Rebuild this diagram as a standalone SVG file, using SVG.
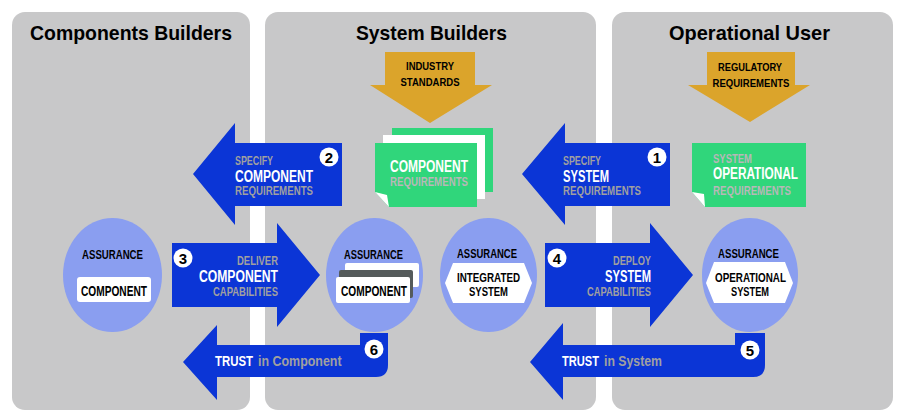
<svg xmlns="http://www.w3.org/2000/svg" width="901" height="418" viewBox="0 0 901 418">
<defs>
<style>
.panel{fill:#c8c8c9}
.hdr{font-family:"Liberation Sans",Arial,sans-serif;font-weight:bold;font-size:21px;fill:#000}
.t{font-family:"Liberation Sans Narrow","Liberation Sans",Arial,sans-serif;font-weight:bold}
.blue{fill:#0b35d6}
.orange{fill:#dba42b}
.green{fill:#30d67b}
.ell{fill:#8a9ef0}
.wt{fill:#fff}
.gt{fill:#a0a0a0}
.lg{fill:#b8b8b8}
.bk{fill:#000}
.num{fill:#fff}
</style>
</defs>
<rect width="901" height="418" fill="#fff"/>
<g id="panels">
<rect class="panel" x="12" y="12" width="238" height="398" rx="13"/>
<rect class="panel" x="265" y="12" width="331" height="398" rx="13"/>
<rect class="panel" x="612" y="12" width="281" height="398" rx="13"/>
<text class="hdr" x="30" y="40" textLength="202" lengthAdjust="spacingAndGlyphs">Components Builders</text>
<text class="hdr" x="356" y="40" textLength="151" lengthAdjust="spacingAndGlyphs">System Builders</text>
<text class="hdr" x="669" y="40" textLength="161" lengthAdjust="spacingAndGlyphs">Operational User</text>
</g>
<g id="industry-standards">
<path class="orange" d="M385,52 L475,52 L475,85 L492,85 L430,123 L370,85 L385,85 Z"/>
<text class="t bk" x="430" y="70" font-size="11.5" text-anchor="middle" textLength="48" lengthAdjust="spacingAndGlyphs">INDUSTRY</text>
<text class="t bk" x="430" y="86" font-size="11.5" text-anchor="middle" textLength="59" lengthAdjust="spacingAndGlyphs">STANDARDS</text>
</g>
<g id="regulatory-requirements">
<path class="orange" d="M707,52 L795,52 L795,85 L810,85 L750,122 L688,85 L707,85 Z"/>
<text class="t bk" x="750" y="71" font-size="11.5" text-anchor="middle" textLength="64" lengthAdjust="spacingAndGlyphs">REGULATORY</text>
<text class="t bk" x="751" y="87" font-size="11.5" text-anchor="middle" textLength="77" lengthAdjust="spacingAndGlyphs">REQUIREMENTS</text>
</g>
<g id="component-requirements">
<rect class="green" x="392" y="128" width="101" height="64"/>
<rect class="wt" x="383" y="135" width="102" height="64"/>
<path class="green" d="M375,143 L477,143 L477,207 L389,207 L375,192 Z"/>
<path class="wt" d="M375,192 L387,195 L389,207 Z"/>
<text class="t wt" x="390" y="172" font-size="16" textLength="78" lengthAdjust="spacingAndGlyphs">COMPONENT</text>
<text class="t lg" x="390" y="186" font-size="12.5" textLength="78" lengthAdjust="spacingAndGlyphs">REQUIREMENTS</text>
</g>
<g id="system-operational-requirements">
<path class="green" d="M692,143 L806,143 L806,207 L705,207 L692,192 Z"/>
<path class="wt" d="M692,192 L704,194 L705,207 Z"/>
<text class="t lg" x="713" y="163" font-size="12.5" textLength="39" lengthAdjust="spacingAndGlyphs">SYSTEM</text>
<text class="t wt" x="713" y="179" font-size="16" textLength="85" lengthAdjust="spacingAndGlyphs">OPERATIONAL</text>
<text class="t lg" x="713" y="195" font-size="12.5" textLength="78" lengthAdjust="spacingAndGlyphs">REQUIREMENTS</text>
</g>
<g id="assurance-component-1">
<ellipse class="ell" cx="112.5" cy="275" rx="49.5" ry="57"/>
<text class="t bk" x="112.5" y="259" font-size="13" text-anchor="middle" textLength="61" lengthAdjust="spacingAndGlyphs">ASSURANCE</text>
<rect class="wt" x="77" y="277" width="74" height="25" rx="3"/>
<text class="t bk" x="114" y="296" font-size="14.5" text-anchor="middle" textLength="66" lengthAdjust="spacingAndGlyphs">COMPONENT</text>
</g>
<g id="assurance-component-2">
<ellipse class="ell" cx="374.5" cy="275" rx="48.5" ry="57"/>
<text class="t bk" x="373.5" y="259" font-size="13" text-anchor="middle" textLength="59" lengthAdjust="spacingAndGlyphs">ASSURANCE</text>
<rect class="wt" x="345" y="263" width="74" height="24" rx="2"/>
<rect fill="#555b5b" x="339" y="270" width="74" height="28" rx="2"/>
<rect class="wt" x="336" y="277" width="74" height="26" rx="2"/>
<text class="t bk" x="374" y="296" font-size="14.5" text-anchor="middle" textLength="66" lengthAdjust="spacingAndGlyphs">COMPONENT</text>
</g>
<g id="assurance-integrated-system">
<ellipse class="ell" cx="488.5" cy="275" rx="48.5" ry="57"/>
<text class="t bk" x="487" y="258" font-size="13" text-anchor="middle" textLength="60" lengthAdjust="spacingAndGlyphs">ASSURANCE</text>
<path class="wt" d="M445,283 L453,263 L524,263 L532,283 L524,303 L453,303 Z"/>
<text class="t bk" x="488.5" y="282" font-size="12" text-anchor="middle" textLength="63" lengthAdjust="spacingAndGlyphs">INTEGRATED</text>
<text class="t bk" x="488.5" y="296" font-size="12" text-anchor="middle" textLength="39" lengthAdjust="spacingAndGlyphs">SYSTEM</text>
</g>
<g id="assurance-operational-system">
<ellipse class="ell" cx="750" cy="275" rx="48" ry="57"/>
<text class="t bk" x="748.5" y="258" font-size="13" text-anchor="middle" textLength="61" lengthAdjust="spacingAndGlyphs">ASSURANCE</text>
<path class="wt" d="M706,283 L714,262 L785,262 L793,283 L785,303 L714,303 Z"/>
<text class="t bk" x="750.5" y="282" font-size="12" text-anchor="middle" textLength="71" lengthAdjust="spacingAndGlyphs">OPERATIONAL</text>
<text class="t bk" x="750" y="296" font-size="12" text-anchor="middle" textLength="38" lengthAdjust="spacingAndGlyphs">SYSTEM</text>
</g>
<g id="connectors">
<g id="arrow-1">
<path class="blue" d="M522,174 L565,123 L565,143 L670,143 L670,206 L565,206 L565,225 Z"/>
<circle class="num" cx="657" cy="157" r="9.5"/>
<text class="t bk" x="657" y="162.5" font-size="15" text-anchor="middle">1</text>
<text class="t gt" x="563" y="165" font-size="13" textLength="38" lengthAdjust="spacingAndGlyphs">SPECIFY</text>
<text class="t wt" x="563" y="182" font-size="16" textLength="46" lengthAdjust="spacingAndGlyphs">SYSTEM</text>
<text class="t gt" x="563" y="195" font-size="12.5" textLength="78" lengthAdjust="spacingAndGlyphs">REQUIREMENTS</text>
</g>
<g id="arrow-2">
<path class="blue" d="M193,174 L235,123 L235,143 L342,143 L342,206 L235,206 L235,225 Z"/>
<circle class="num" cx="329" cy="157" r="9.5"/>
<text class="t bk" x="329" y="162.5" font-size="15" text-anchor="middle">2</text>
<text class="t gt" x="235" y="165" font-size="13" textLength="38" lengthAdjust="spacingAndGlyphs">SPECIFY</text>
<text class="t wt" x="235" y="182" font-size="16" textLength="78" lengthAdjust="spacingAndGlyphs">COMPONENT</text>
<text class="t gt" x="235" y="195" font-size="12.5" textLength="78" lengthAdjust="spacingAndGlyphs">REQUIREMENTS</text>
</g>
<g id="arrow-3">
<path class="blue" d="M172,243 L277,243 L277,223 L320,275 L277,327 L277,307 L172,307 Z"/>
<circle class="num" cx="183" cy="258" r="9.5"/>
<text class="t bk" x="183" y="263.5" font-size="15" text-anchor="middle">3</text>
<text class="t gt" x="278" y="265" font-size="13" text-anchor="end" textLength="41" lengthAdjust="spacingAndGlyphs">DELIVER</text>
<text class="t wt" x="278" y="282" font-size="16" text-anchor="end" textLength="79" lengthAdjust="spacingAndGlyphs">COMPONENT</text>
<text class="t gt" x="278" y="296" font-size="12.5" text-anchor="end" textLength="65" lengthAdjust="spacingAndGlyphs">CAPABILITIES</text>
</g>
<g id="arrow-4">
<path class="blue" d="M545,243 L650,243 L650,223 L693,275 L650,327 L650,307 L545,307 Z"/>
<circle class="num" cx="557" cy="258" r="9.5"/>
<text class="t bk" x="557" y="263.5" font-size="15" text-anchor="middle">4</text>
<text class="t gt" x="651" y="265" font-size="13" text-anchor="end" textLength="38" lengthAdjust="spacingAndGlyphs">DEPLOY</text>
<text class="t wt" x="651" y="282" font-size="16" text-anchor="end" textLength="46" lengthAdjust="spacingAndGlyphs">SYSTEM</text>
<text class="t gt" x="651" y="296" font-size="12.5" text-anchor="end" textLength="64" lengthAdjust="spacingAndGlyphs">CAPABILITIES</text>
</g>
<g id="arrow-5">
<path class="blue" d="M530,362 L563,323 L563,345 L735,345 L735,333 L765,333 L765,365 Q765,377 753,377 L563,377 L563,400 Z"/>
<circle class="num" cx="750" cy="350" r="9.5"/>
<text class="t bk" x="750" y="355.5" font-size="15" text-anchor="middle">5</text>
<text class="t wt" transform="translate(562,366) scale(0.74,1)" font-size="15">TRUST</text>
<text class="t gt" transform="translate(604,366) scale(0.82,1)" font-size="15">in System</text>
</g>
<g id="arrow-6">
<path class="blue" d="M183,362 L217,325 L217,345 L360,345 L360,333 L388,333 L388,365 Q388,377 376,377 L217,377 L217,400 Z"/>
<circle class="num" cx="374" cy="349" r="9.5"/>
<text class="t bk" x="374" y="354.5" font-size="15" text-anchor="middle">6</text>
<text class="t wt" transform="translate(215,366) scale(0.76,1)" font-size="15">TRUST</text>
<text class="t gt" transform="translate(258,366) scale(0.83,1)" font-size="15">in Component</text>
</g>
</g>
</svg>
